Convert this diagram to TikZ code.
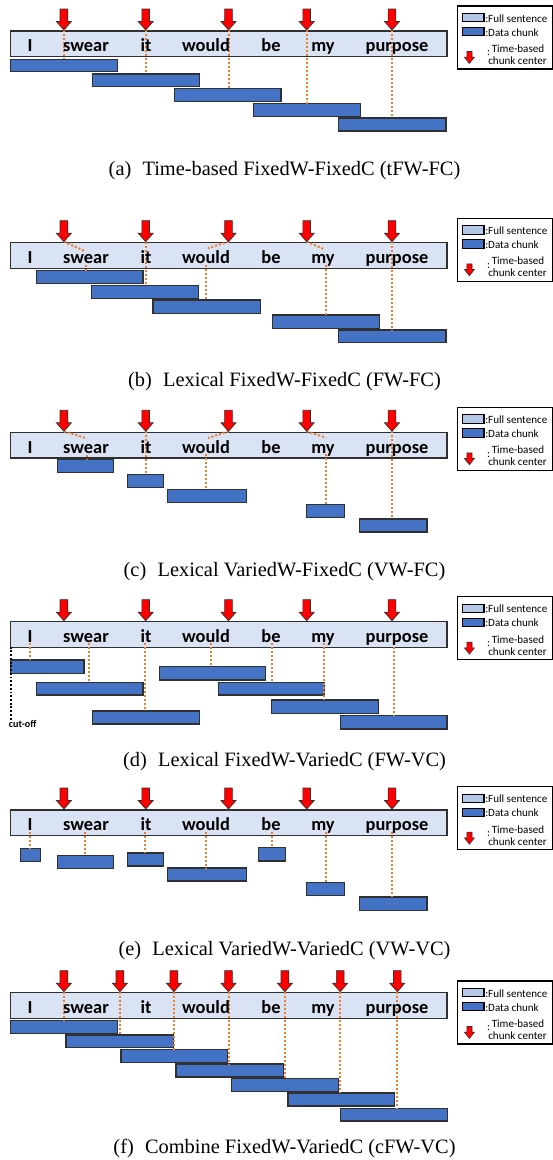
\documentclass[tikz,border=0pt]{standalone}
\usepackage{fontspec}
\setmainfont{Liberation Serif}
\newfontfamily\carlito{Carlito}
\definecolor{barfill}{HTML}{DAE3F3}
\definecolor{legfill}{HTML}{B4C7E7}
\definecolor{chunkfill}{HTML}{4472C4}
\definecolor{barline}{HTML}{303030}
\definecolor{dotorange}{HTML}{ED7D31}
\definecolor{arrowred}{HTML}{FF0000}
\newcommand\chk[5]{\node[chunk, minimum width={(#4-#2)*0.75pt}, minimum height={(#5-#3)*0.75pt}] (#1) at ({(#2+#4)/2},{(#3+#5)/2}) {};}
\newcommand\vdot[3]{\coordinate (vd) at (#1,#2); \draw[orangedot] (vd) -- (vd |- #3.north);}
\newcommand\sentbar[2]{\node[sent] (#1bar) at (228.85,{#2+12.85}) {};}
\newcommand\wordrow[2]{%
  \foreach \w/\x/\n in {I/30/1, swear/86/2, it/146/3, would/206/4, be/271/5, my/323/6, purpose/397/7}
  {\node[word] (#1w\n) at (\x,{#2+20.7}) {\w};}}
\newcommand\bigarrow[3]{%
  \draw[redarrow] ({#2-3.85},{#3-22}) -- ({#2+3.85},{#3-22}) -- ({#2+3.85},{#3-9.5}) -- ({#2+7.5},{#3-9.5}) -- (#2,{#3-1}) -- ({#2-7.5},{#3-9.5}) -- ({#2-3.85},{#3-9.5}) -- cycle;
  \coordinate (#1) at (#2,{#3-1});}
\newcommand\legbox[2]{%
  \node[legframe] (#1leg) at (504.8,{#2+31.5}) {};
  \node[legrect, fill=legfill] (#1lfs) at (473.15,{#2+11.65}) {};
  \node[legtext] (#1lfst) at (485,{#2+12.3}) {:Full sentence};
  \node[legrect, fill=chunkfill] (#1ldc) at (473.15,{#2+25.6}) {};
  \node[legtext] (#1ldct) at (485,{#2+26.3}) {:Data chunk};
  \draw[redarrow, line width=0.4pt] ({469.4-2.6},{#2+45.5}) -- ({469.4+2.6},{#2+45.5}) -- ({469.4+2.6},{#2+51.2}) -- ({469.4+5},{#2+51.2}) -- (469.4,{#2+57.5}) -- ({469.4-5},{#2+51.2}) -- ({469.4-2.6},{#2+51.2}) -- cycle;
  \node[legtext] (#1lcol) at (486.8,{#2+47.5}) {:};
  \node[legtext] (#1ltb) at (491.5,{#2+42.5}) {Time-based};
  \node[legtext] (#1lcc) at (488,{#2+54.8}) {chunk center};}
\begin{document}
\begin{tikzpicture}[x=0.75pt,y=-0.75pt,
  sent/.style={draw=barline, fill=barfill, line width=1pt, minimum width=327.2pt, minimum height=19.3pt, inner sep=0pt, outer sep=0pt},
  chunk/.style={draw=barline, fill=chunkfill, line width=0.9pt, inner sep=0pt, outer sep=0pt},
  word/.style={font={\carlito\bfseries\fontsize{13.8}{16}\selectfont}, inner sep=0pt, anchor=base},
  orangedot/.style={draw=dotorange, line width=1.5pt, dash pattern=on 1.5pt off 1.5pt},
  redarrow/.style={fill=arrowred, draw=barline, line width=0.5pt},
  legtext/.style={font={\carlito\fontsize{8.3}{9}\selectfont}, inner sep=0pt, anchor=west},
  legframe/.style={draw=black, fill=white, line width=0.8pt, minimum width=71.4pt, minimum height=47.25pt, inner sep=0pt},
  legrect/.style={draw=black, line width=0.8pt, minimum width=16.3pt, minimum height=6.4pt, inner sep=0pt},
  capt/.style={font={\fontsize{15.3}{18}\selectfont}, inner sep=0pt, anchor=base}]
\useasboundingbox (0,0) rectangle (553,1160);

% ---------------- (a) ----------------
\sentbar{a}{31}
\chk{ac1}{10.7}{59.3}{117.5}{71.7}
\chk{ac2}{92.5}{74}{199.2}{86.7}
\chk{ac3}{174.2}{88.7}{281}{101.7}
\chk{ac4}{253.2}{103.7}{360.3}{116.3}
\chk{ac5}{338.8}{118}{445.9}{131}
\foreach \x/\n in {63.9/1,145.7/2,228.5/3,306.7/4,392/5}{\coordinate (aa\n) at (\x,30);}
\foreach \n in {1,...,5}{\draw[orangedot] (aa\n) -- (aa\n |- ac\n.north);}
\wordrow{a}{31}
\foreach \x/\n in {63.9/1,145.7/2,228.5/3,306.7/4,392/5}{\bigarrow{aa\n}{\x}{31}}
\legbox{a}{6}
\node[capt] (capa) at (284.5,175) {(a)\hspace{0.55em}Time-based FixedW-FixedC (tFW-FC)};

% ---------------- (b) ----------------
\sentbar{b}{242.7}
\chk{bc1}{36.1}{270.7}{142.9}{283.3}
\chk{bc2}{91.8}{285.3}{198.5}{298.3}
\chk{bc3}{153}{300}{260.2}{313.3}
\chk{bc4}{272.2}{315}{379.3}{328.3}
\chk{bc5}{338.8}{330}{445.9}{342.7}
\foreach \x/\n in {63.9/1,145.7/2,228.5/3,306.7/4,392/5}{\coordinate (ba\n) at (\x,241.7);}
\draw[orangedot] (ba1) -- (84.7,251);
\vdot{86.4}{265}{bc1}
\draw[orangedot] (ba2) -- (ba2 |- bc2.north);
\draw[orangedot] (ba3) -- (208,248.3);
\vdot{206.3}{265}{bc3}
\draw[orangedot] (ba4) -- (324.3,249.3);
\vdot{326.1}{265}{bc4}
\draw[orangedot] (ba5) -- (ba5 |- bc5.north);
\wordrow{b}{242.7}
\foreach \x/\n in {63.9/1,145.7/2,228.5/3,306.7/4,392/5}{\bigarrow{ba\n}{\x}{242.7}}
\legbox{b}{218.3}
\node[capt] (capb) at (284.5,386.7) {(b)\hspace{0.55em}Lexical FixedW-FixedC (FW-FC)};

% ---------------- (c) ----------------
\sentbar{c}{432.3}
\chk{cc1}{57.6}{459.7}{113.2}{472.7}
\chk{cc2}{127.7}{474.7}{163.6}{487.7}
\chk{cc3}{167.5}{489.7}{246.1}{502.7}
\chk{cc4}{306.7}{504.3}{344.1}{517.3}
\chk{cc5}{359.2}{519}{426.9}{532}
\foreach \x/\n in {63.9/1,145.7/2,228.5/3,306.7/4,392/5}{\coordinate (ca\n) at (\x,431.3);}
\draw[orangedot] (ca1) -- (86.5,438.3);
\vdot{86.5}{455}{cc1}
\draw[orangedot] (ca2) -- (ca2 |- cc2.north);
\draw[orangedot] (ca3) -- (208,438);
\vdot{206.3}{454.3}{cc3}
\draw[orangedot] (ca4) -- (326.1,437.7);
\vdot{326.1}{454.3}{cc4}
\draw[orangedot] (ca5) -- (ca5 |- cc5.north);
\wordrow{c}{432.3}
\foreach \x/\n in {63.9/1,145.7/2,228.5/3,306.7/4,392/5}{\bigarrow{ca\n}{\x}{432.3}}
\legbox{c}{407.3}
\node[capt] (capc) at (284.5,576.7) {(c)\hspace{0.55em}Lexical VariedW-FixedC (VW-FC)};

% ---------------- (d) ----------------
\sentbar{d}{621.7}
\chk{dc1}{10.7}{660}{84}{673.3}
\chk{dc2}{36.1}{682.3}{142.9}{695}
\chk{dc3}{92.5}{711}{199.2}{724}
\chk{dc4}{159.4}{666.7}{265.1}{680}
\chk{dc5}{218.6}{682.3}{324.7}{695}
\chk{dc6}{271.5}{700}{378.3}{713.3}
\chk{dc7}{340.5}{715.7}{447}{729}
\foreach \x/\n in {30.1/1,89.3/2,144.6/3,210.9/4,271.5/5,324.3/6,394.1/7}{\vdot{\x}{643.3}{dc\n}}
\wordrow{d}{621.7}
\foreach \x/\n in {63.9/1,145.7/2,228.5/3,306.7/4,392/5}{\bigarrow{da\n}{\x}{621.7}}
\coordinate (cuttop) at (10.7,646.7);
\coordinate (cutbot) at (10.7,720);
\draw[black, line width=1.4pt, dash pattern=on 1.4pt off 1.4pt] (cuttop) -- (cutbot);
\node[font={\carlito\bfseries\fontsize{7.6}{9}\selectfont}, inner sep=0pt, anchor=west] (cutoff) at (8.6,724) {cut-off};
\legbox{d}{596.7}
\node[capt] (capd) at (284.5,766.7) {(d)\hspace{0.55em}Lexical FixedW-VariedC (FW-VC)};

% ---------------- (e) ----------------
\sentbar{e}{810}
\chk{ec1}{20.2}{848.3}{40.7}{861.7}
\chk{ec2}{57.6}{855.3}{113.2}{868.7}
\chk{ec3}{127.7}{853}{163.6}{866}
\chk{ec4}{167.5}{868}{246.1}{881}
\chk{ec5}{258.1}{847.7}{285.6}{861}
\chk{ec6}{306.7}{882.3}{344.1}{895.7}
\chk{ec7}{359.2}{897}{426.9}{910.3}
\foreach \x/\n in {30.1/1,85.4/2,145.3/3,206.3/4,271.5/5,326.1/6,392/7}{\vdot{\x}{831.7}{ec\n}}
\wordrow{e}{810}
\foreach \x/\n in {63.9/1,145.7/2,228.5/3,306.7/4,392/5}{\bigarrow{ea\n}{\x}{810}}
\legbox{e}{786.7}
\node[capt] (cape) at (284.5,955) {(e)\hspace{0.55em}Lexical VariedW-VariedC (VW-VC)};

% ---------------- (f) ----------------
\sentbar{f}{992.7}
\chk{fc1}{10.7}{1020.7}{117.5}{1033.3}
\chk{fc2}{66}{1035}{173.2}{1047.7}
\chk{fc3}{121}{1049.7}{227.8}{1062.7}
\chk{fc4}{176}{1064}{283.1}{1077}
\chk{fc5}{231.7}{1078.7}{338.4}{1091.7}
\chk{fc6}{288}{1093}{394.1}{1106}
\chk{fc7}{340.5}{1108.3}{447.3}{1121}
\foreach \x/\n in {63.9/1,119.9/2,173.9/3,228.5/4,284.9/5,340.2/6,397.3/7}{\coordinate (fa\n) at (\x,991.7);}
\foreach \n in {1,...,7}{\draw[orangedot] (fa\n) -- (fa\n |- fc\n.north);}
\wordrow{f}{992.7}
\foreach \x/\n in {63.9/1,119.9/2,173.9/3,228.5/4,284.9/5,340.2/6,397.3/7}{\bigarrow{fa\n}{\x}{992.7}}
\legbox{f}{981}
\node[capt] (capf) at (284.5,1153) {(f)\hspace{0.55em}Combine FixedW-VariedC (cFW-VC)};
\end{tikzpicture}
\end{document}
